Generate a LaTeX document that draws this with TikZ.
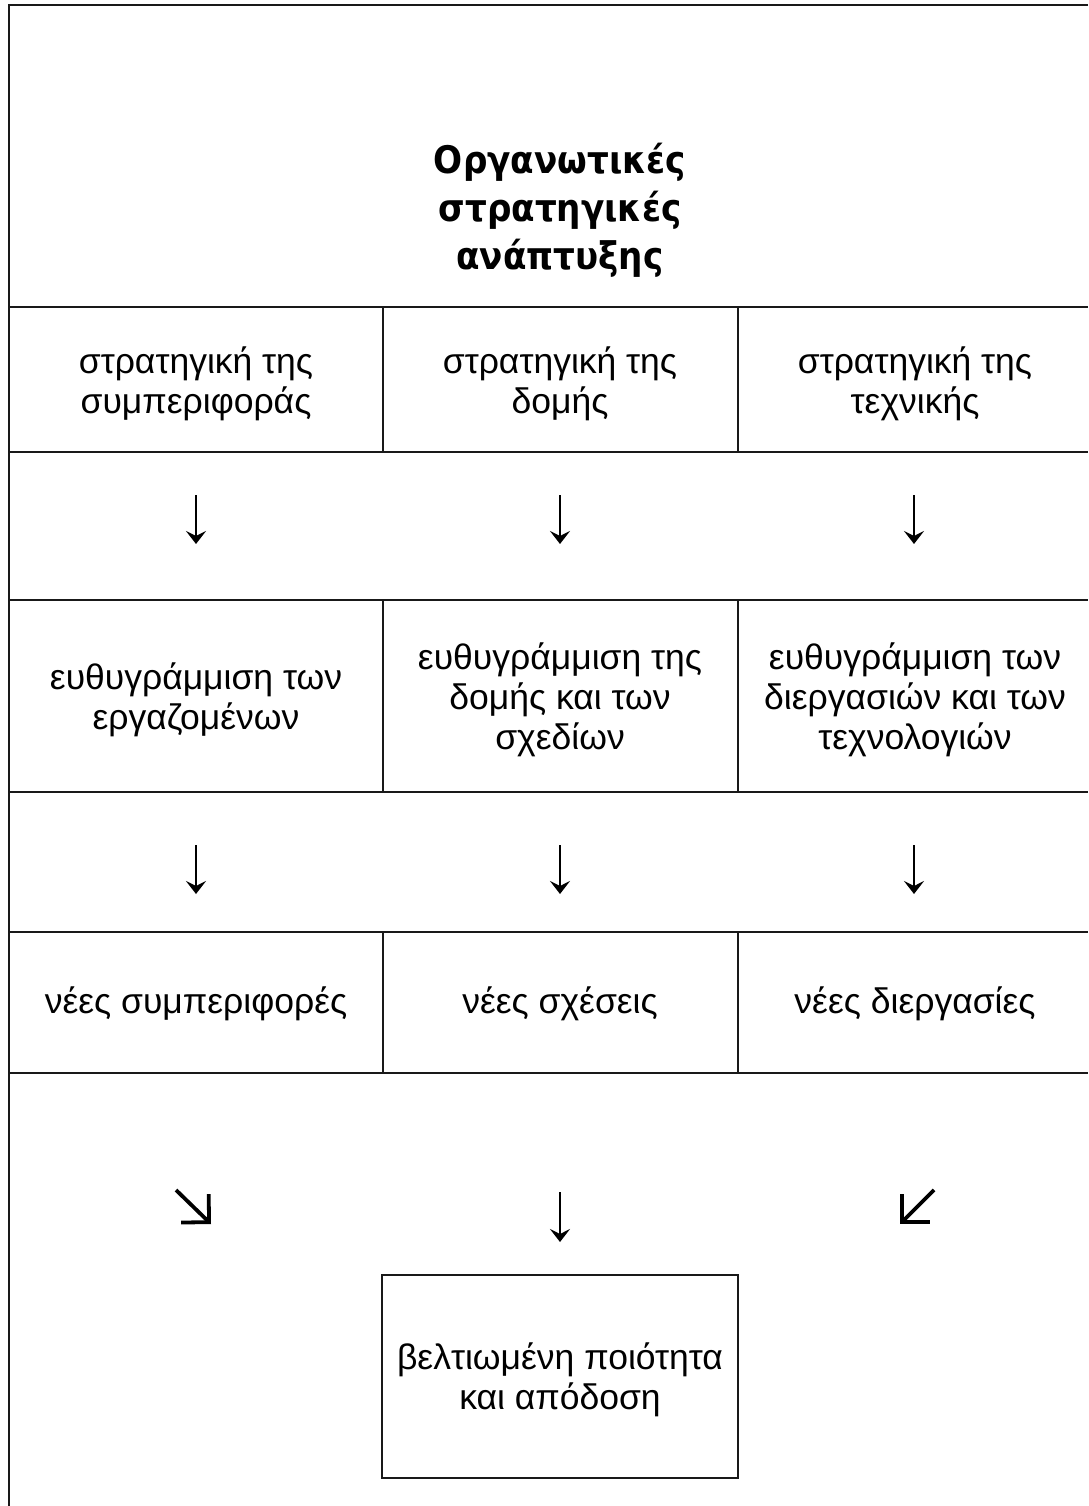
\documentclass[tikz,border=0pt]{standalone}
\usepackage{fontspec}
\setmainfont{Liberation Sans}
\newfontfamily\titlefont[FakeStretch=0.9]{DejaVu Sans}
\usetikzlibrary{arrows.meta}
\begin{document}
\begin{tikzpicture}[x=1pt,y=-1pt,
  rule/.style={line width=2.2pt,black!90},
  celltext/.style={align=center,font=\fontsize{35.5}{40}\selectfont,inner sep=0pt},
  titletext/.style={align=center,font=\titlefont\bfseries\fontsize{38}{48}\selectfont,inner sep=0pt},
  downarr/.style={line width=2pt,-{Stealth[length=13pt,width=20pt,inset=5pt]}},
  diagarr/.style={line width=3.8pt,-{Straight Barb[length=13pt,width=26pt,angle=90:28pt]}}]
\useasboundingbox (0,0) rectangle (1088,1506);
% frame and rules
\draw[rule] (1088,5) -- (9,5) -- (9,1506);
\foreach \yy in {307,452,600,792,932,1073}{\draw[rule] (9,\yy) -- (1088,\yy);}
\foreach \xx in {383,738}{
  \draw[rule] (\xx,307) -- (\xx,452);
  \draw[rule] (\xx,600) -- (\xx,792);
  \draw[rule] (\xx,932) -- (\xx,1073);
}
% title
\node[titletext] (title) at (560,210) {Οργανωτικές\\στρατηγικές\\ανάπτυξης};
% row 1
\node[celltext] (s1) at (196,384) {στρατηγική της\\συμπεριφοράς};
\node[celltext] (s2) at (560,384) {στρατηγική της\\δομής};
\node[celltext] (s3) at (915,384) {στρατηγική της\\τεχνικής};
% row 3
\node[celltext] (e1) at (196,700) {ευθυγράμμιση των\\εργαζομένων};
\node[celltext] (e2) at (560,700) {ευθυγράμμιση της\\δομής και των\\σχεδίων};
\node[celltext] (e3) at (915,700) {ευθυγράμμιση των\\διεργασιών και των\\τεχνολογιών};
% row 5
\node[celltext] (n1) at (196,1004) {νέες συμπεριφορές};
\node[celltext] (n2) at (560,1004) {νέες σχέσεις};
\node[celltext] (n3) at (915,1004) {νέες διεργασίες};
% bottom box
\draw[rule] (382,1275) rectangle (738,1478);
\node[celltext] (res) at (560,1380) {βελτιωμένη ποιότητα\\και απόδοση};
% arrow coordinates
\coordinate (a1s) at (196,495); \coordinate (a1e) at (196,544);
\coordinate (a2s) at (560,495); \coordinate (a2e) at (560,544);
\coordinate (a3s) at (914,495); \coordinate (a3e) at (914,544);
\coordinate (b1s) at (196,845); \coordinate (b1e) at (196,894);
\coordinate (b2s) at (560,845); \coordinate (b2e) at (560,894);
\coordinate (b3s) at (914,845); \coordinate (b3e) at (914,894);
\coordinate (c1s) at (176,1190); \coordinate (c1e) at (211,1224);
\coordinate (c2s) at (560,1192); \coordinate (c2e) at (560,1242);
\coordinate (c3s) at (934,1190); \coordinate (c3e) at (900,1224);
\foreach \a in {a1,a2,a3,b1,b2,b3,c2}{\draw[downarr] (\a s) -- (\a e);}
\draw[diagarr] (c1s) -- (c1e);
\draw[diagarr] (c3s) -- (c3e);
\end{tikzpicture}
\end{document}
